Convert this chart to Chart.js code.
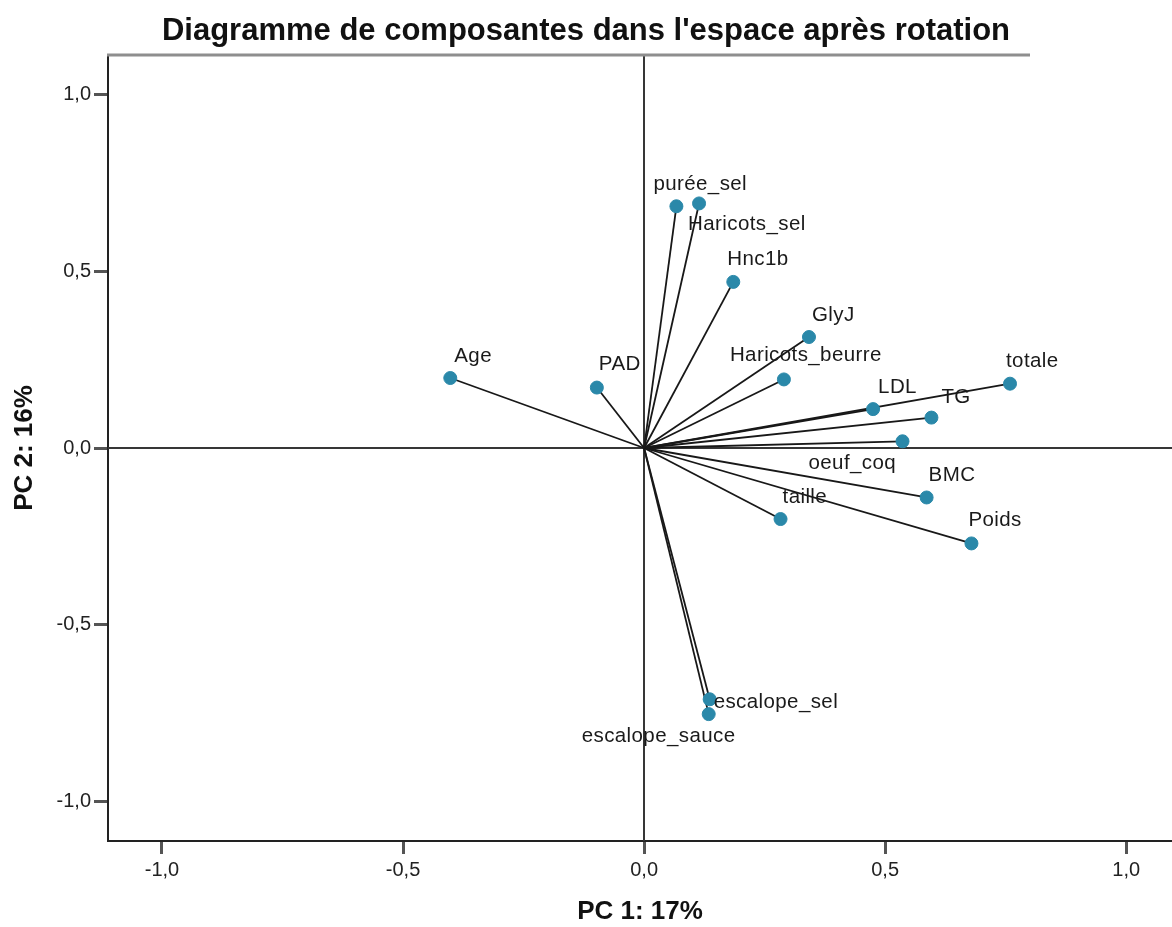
<!DOCTYPE html>
<html lang="fr">
<head>
<meta charset="utf-8">
<title>Diagramme de composantes dans l'espace après rotation</title>
<script src="https://cdn.jsdelivr.net/npm/chart.js@4.4.1/dist/chart.umd.min.js"></script>
<style>
  html, body { margin: 0; padding: 0; background: #fff; }
  #wrap { width: 1172px; height: 927px; }
</style>
</head>
<body>
<div id="wrap"><canvas id="chart" width="1172" height="927"></canvas></div>
<script>
// loadings
const variables = ["Age", "PAD", "purée_sel", "Haricots_sel", "Hnc1b", "GlyJ", "Haricots_beurre",
  "totale", "LDL", "TG", "oeuf_coq", "BMC", "taille", "Poids", "escalope_sel", "escalope_sauce"];
const pc1 = [-0.402, -0.098, 0.067, 0.114, 0.185, 0.342, 0.290,
  0.759, 0.475, 0.596, 0.536, 0.586, 0.283, 0.679, 0.136, 0.134];
const pc2 = [0.198, 0.171, 0.684, 0.692, 0.470, 0.314, 0.194,
  0.182, 0.110, 0.086, 0.019, -0.140, -0.201, -0.270, -0.711, -0.753];
const xTicks = [-1, -0.5, 0, 0.5, 1];
const yTicks = [-1, -0.5, 0, 0.5, 1];

// where each label sits relative to its point (px: left edge, vertical middle)
const labelDx = [4, 2, -23, -11, -6, 3, -54, -4, 5, 10, -94, 2, 2, -3, 4, -127];
const labelDy = [-22, -23, -22, 21, -23, -22, -24, -22, -22, -20, 22, -22, -22, -23, 3, 22];

const FONT = '"Liberation Sans", Arial, Helvetica, sans-serif';
const POINT_COLOR = "#2a88a9";
const TOP_RULE_END = 1030;

const fmt = (v) => Number(v).toFixed(1).replace(".", ",");

const pcaDecor = {
  id: "pcaDecor",
  beforeDatasetsDraw(chart){
    const { ctx, chartArea: a, scales: { x, y } } = chart;
    const x0 = Math.round(x.getPixelForValue(0));
    const y0 = Math.round(y.getPixelForValue(0));
    ctx.save();
    // reference lines through the origin
    ctx.strokeStyle = "#363636";
    ctx.lineWidth = 2;
    ctx.beginPath();
    ctx.moveTo(x0, a.top); ctx.lineTo(x0, a.bottom);
    ctx.moveTo(a.left, y0); ctx.lineTo(a.right, y0);
    ctx.stroke();
    // grey rule along the top of the frame
    ctx.strokeStyle = "#8e8e8e";
    ctx.lineWidth = 3;
    ctx.beginPath();
    ctx.moveTo(a.left - 1, a.top); ctx.lineTo(TOP_RULE_END, a.top);
    ctx.stroke();
    ctx.restore();
  },
  afterDatasetsDraw(chart){
    const { ctx, scales: { x, y } } = chart;
    ctx.save();
    ctx.font = `20.5px ${FONT}`;
    if ("letterSpacing" in ctx) ctx.letterSpacing = "0.4px";
    ctx.fillStyle = "#1a1a1a";
    ctx.textAlign = "left";
    ctx.textBaseline = "middle";
    variables.forEach((name, i) => {
      const px = x.getPixelForValue(pc1[i]);
      const py = y.getPixelForValue(pc2[i]);
      ctx.fillText(name, px + labelDx[i], py + labelDy[i]);
    });
    ctx.restore();
  },
  afterDraw(chart){
    const { ctx, width } = chart;
    ctx.save();
    ctx.font = `bold 31px ${FONT}`;
    ctx.fillStyle = "#111";
    ctx.textAlign = "center";
    ctx.textBaseline = "middle";
    ctx.fillText("Diagramme de composantes dans l'espace après rotation", width / 2, 31);
    ctx.restore();
  }
};

const vectorSets = variables.map((name, i) => ({
  label: name,
  data: [{ x: 0, y: 0 }, { x: pc1[i], y: pc2[i] }],
  showLine: true,
  borderColor: "#181818",
  borderWidth: 1.8,
  pointRadius: 0,
  pointHoverRadius: 0,
  order: 2
}));

const pointSet = {
  label: "Composantes",
  data: variables.map((name, i) => ({ x: pc1[i], y: pc2[i] })),
  backgroundColor: POINT_COLOR,
  borderColor: POINT_COLOR,
  borderWidth: 1,
  pointRadius: 6.5,
  order: 1
};

new Chart(document.getElementById("chart").getContext("2d"), {
  type: "scatter",
  data: { datasets: [pointSet, ...vectorSets] },
  options: {
    responsive: false,
    animation: false,
    devicePixelRatio: 1,
    layout: { autoPadding: false, padding: { top: 55, right: 0, left: 0, bottom: 0 } },
    plugins: { legend: { display: false }, tooltip: { enabled: false }, title: { display: false } },
    scales: {
      x: {
        type: "linear",
        min: -1.112,
        max: 1.095,
        afterBuildTicks: (s) => { s.ticks = xTicks.map(v => ({ value: v })); },
        afterFit: (s) => { s.height = 86; s.paddingLeft = 0; s.paddingRight = 0; },
        grid: { drawOnChartArea: false, drawTicks: true, tickLength: 13, tickWidth: 3, tickColor: "#555" },
        border: { display: true, color: "#222", width: 2 },
        ticks: { font: { family: FONT, size: 20 }, color: "#222", padding: 4, maxRotation: 0, callback: fmt },
        title: { display: true, text: "PC 1: 17%", color: "#111",
          font: { family: FONT, size: 26, weight: "bold" }, padding: { top: 0, bottom: 0 } }
      },
      y: {
        type: "linear",
        min: -1.112,
        max: 1.112,
        afterBuildTicks: (s) => { s.ticks = yTicks.map(v => ({ value: v })); },
        afterFit: (s) => { s.width = 108; s.paddingTop = 0; s.paddingBottom = 0; },
        grid: { drawOnChartArea: false, drawTicks: true, tickLength: 14, tickWidth: 3, tickColor: "#555" },
        border: { display: true, color: "#222", width: 2 },
        ticks: { font: { family: FONT, size: 20 }, color: "#222", padding: 3, callback: fmt },
        title: { display: true, text: "PC 2: 16%", color: "#111",
          font: { family: FONT, size: 26, weight: "bold" }, padding: { top: 9, bottom: 0 } }
      }
    }
  },
  plugins: [pcaDecor]
});
</script>
</body>
</html>
